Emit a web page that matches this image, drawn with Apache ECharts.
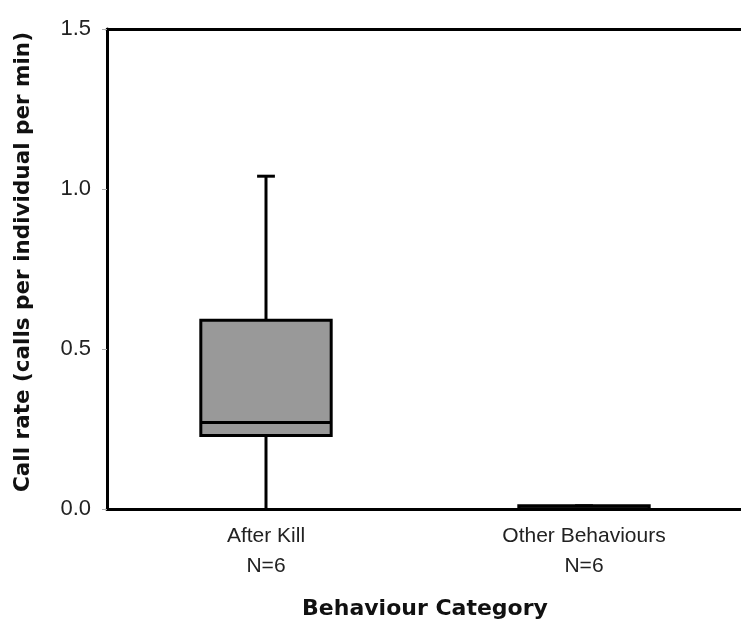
<!DOCTYPE html>
<html>
<head>
<meta charset="utf-8">
<script src="https://cdn.jsdelivr.net/npm/echarts@6/dist/echarts.min.js"></script>
<style>
html,body{margin:0;padding:0;background:#fff;}
#main{width:741px;height:619px;}
</style>
</head>
<body>
<div id="main"></div>
<script>
// Data
const categories = ['After Kill\nN=6', 'Other Behaviours\nN=6'];
const whiskerLow  = [0.00, 0.00];
const quartile1   = [0.23, 0.00];
const medians     = [0.27, 0.00];
const quartile3   = [0.59, 0.01];
const whiskerHigh = [1.04, 0.01];
const yTicks = [0, 0.5, 1.0, 1.5];

const boxData = categories.map((c, i) => [i, whiskerLow[i], quartile1[i], medians[i], quartile3[i], whiskerHigh[i]]);

const chart = echarts.init(document.getElementById('main'));
const regFont = '"Liberation Sans", Arial, sans-serif';
const boldFont = '"DejaVu Sans", "Liberation Sans", sans-serif';

chart.setOption({
  animation: false,
  backgroundColor: '#fff',
  grid: {
    left: 107, top: 29, right: -2, bottom: 110,
    outerBoundsMode: 'none',
    containLabel: false,
    show: false
  },
  xAxis: [{
    type: 'category',
    data: categories,
    boundaryGap: true,
    axisLine: { show: true, lineStyle: { color: '#000', width: 3 } },
    axisTick: { show: false },
    axisLabel: {
      margin: 12, fontFamily: regFont, fontSize: 21, color: '#222',
      lineHeight: 30, align: 'center'
    },
    name: 'Behaviour Category',
    nameLocation: 'middle',
    nameGap: 89,
    nameTextStyle: { fontFamily: boldFont, fontWeight: 'bold', fontSize: 22, color: '#111' }
  }, {
    type: 'category',
    data: categories,
    position: 'top',
    boundaryGap: true,
    axisLine: { show: true, lineStyle: { color: '#000', width: 3 } },
    axisTick: { show: false },
    axisLabel: { show: false }
  }],
  yAxis: {
    type: 'value',
    min: yTicks[0], max: yTicks[yTicks.length - 1], interval: 0.5,
    axisLine: { show: true, lineStyle: { color: '#000', width: 3 } },
    axisTick: { show: true, length: 5, lineStyle: { color: '#aaa', width: 1 } },
    splitLine: { show: false },
    axisLabel: {
      margin: 16, fontFamily: regFont, fontSize: 22, color: '#222',
      formatter: v => v.toFixed(1)
    },
    name: 'Call rate (calls per individual per min)',
    nameLocation: 'middle',
    nameGap: 73,
    nameTextStyle: { fontFamily: boldFont, fontWeight: 'bold', fontSize: 21.5, color: '#111', padding: [0, 0, 0, 14] }
  },
  series: [{
    type: 'custom',
    data: boxData,
    encode: { x: 0, y: [1, 2, 3, 4, 5] },
    renderItem: function (params, api) {
      const idx = api.value(0);
      const band = api.size([1, 0])[0];
      const half = band * 0.41 / 2;
      const capHalf = band * 0.028;
      const pLow = api.coord([idx, api.value(1)]);
      const pQ1 = api.coord([idx, api.value(2)]);
      const pMed = api.coord([idx, api.value(3)]);
      const pQ3 = api.coord([idx, api.value(4)]);
      const pHigh = api.coord([idx, api.value(5)]);
      const cx = pQ1[0];
      const lineStyle = { stroke: '#000', lineWidth: 3 };
      return {
        type: 'group',
        children: [
          { type: 'line', shape: { x1: cx, y1: pQ3[1], x2: cx, y2: pHigh[1] }, style: lineStyle },
          { type: 'line', shape: { x1: cx, y1: pQ1[1], x2: cx, y2: pLow[1] }, style: lineStyle },
          { type: 'line', shape: { x1: cx - capHalf, y1: pHigh[1], x2: cx + capHalf, y2: pHigh[1] }, style: lineStyle },
          { type: 'rect', shape: { x: cx - half, y: pQ3[1], width: half * 2, height: pQ1[1] - pQ3[1] },
            style: { fill: '#999', stroke: '#000', lineWidth: 3 } },
          { type: 'line', shape: { x1: cx - half, y1: pMed[1], x2: cx + half, y2: pMed[1] }, style: lineStyle }
        ]
      };
    }
  }]
});
</script>
</body>
</html>
